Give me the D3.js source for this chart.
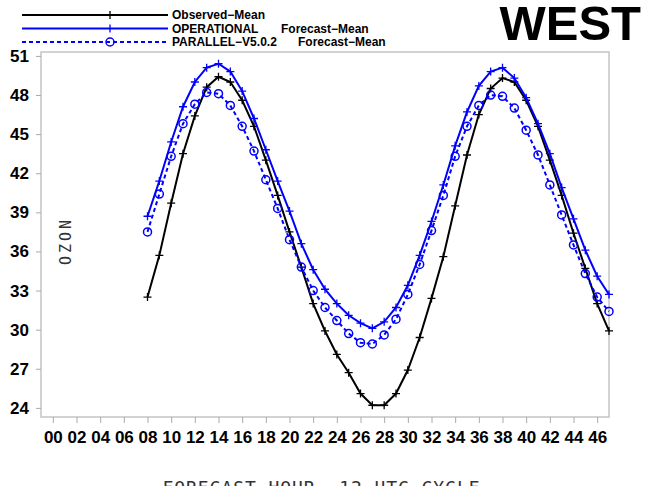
<!DOCTYPE html>
<html>
<head>
<meta charset="utf-8">
<script src="https://cdn.jsdelivr.net/npm/d3@7"></script>
<style>
  body { margin: 0; background: #fff; }
  svg { display: block; }
</style>
</head>
<body>
<div id="chart"></div>
<script>
// forecast hours 08..47
var hours = d3.range(8, 48);

var observed = [32.5, 35.7, 39.7, 43.5, 46.4, 48.6, 49.4, 49.0, 47.6, 45.6,
  43.0, 40.3, 37.5, 34.8, 32.0, 29.9, 28.1, 26.7, 25.1, 24.2,
  24.2, 25.1, 26.9, 29.4, 32.4, 35.6, 39.5, 43.4, 46.5, 48.5,
  49.3, 49.0, 47.6, 45.6, 43.0, 40.3, 37.4, 34.7, 32.0, 29.9];

var operational = [38.7, 41.4, 44.4, 47.1, 49.0, 50.1, 50.4, 49.8, 48.3, 46.2,
  43.8, 41.4, 39.1, 36.6, 34.6, 33.1, 32.0, 31.1, 30.5, 30.1,
  30.6, 31.7, 33.4, 35.7, 38.3, 41.1, 44.1, 46.7, 48.7, 49.8,
  50.1, 49.3, 47.8, 45.8, 43.5, 40.9, 38.5, 36.1, 34.1, 32.7];

var parallel = [37.5, 40.4, 43.3, 45.8, 47.3, 48.2, 48.1, 47.2, 45.6, 43.7,
  41.5, 39.3, 36.9, 34.8, 33.0, 31.7, 30.7, 29.7, 29.0, 28.9,
  29.6, 30.8, 32.7, 35.0, 37.6, 40.3, 43.3, 45.6, 47.2, 48.0,
  47.9, 47.0, 45.3, 43.4, 41.1, 38.8, 36.5, 34.3, 32.5, 31.4];

var xTicks = d3.range(0, 47, 2);
var yTicks = [24, 27, 30, 33, 36, 39, 42, 45, 48, 51];

var width = 646, height = 486;
var plot = { x0: 41, x1: 609, y0: 52, y1: 417 };

var svg = d3.select('#chart').append('svg')
  .attr('width', width)
  .attr('height', height);

var x = d3.scaleLinear().domain([-1, 47]).range([plot.x0, plot.x1]);
var y = d3.scaleLinear().domain([23.3, 51.3]).range([plot.y1, plot.y0]);

// frame
svg.append('rect')
  .attr('x', plot.x0).attr('y', plot.y0)
  .attr('width', plot.x1 - plot.x0).attr('height', plot.y1 - plot.y0)
  .attr('fill', 'none')
  .attr('stroke', '#c4c4c4')
  .attr('stroke-width', 1.5);

var yAxis = svg.append('g')
  .attr('transform', 'translate(' + plot.x0 + ',0)')
  .call(d3.axisLeft(y).tickValues(yTicks).tickSize(5).tickPadding(7));

var xAxis = svg.append('g')
  .attr('transform', 'translate(0,' + plot.y1 + ')')
  .call(d3.axisBottom(x).tickValues(xTicks).tickSize(6).tickPadding(8)
    .tickFormat(function(d) { return d3.format('02d')(d); }));

[yAxis, xAxis].forEach(function(g) {
  g.select('.domain').remove();
  g.selectAll('line').attr('stroke', '#aaa');
  g.selectAll('text')
    .attr('fill', '#000')
    .style('font-family', '"Liberation Sans", Arial, sans-serif')
    .style('font-weight', 'bold')
    .style('font-size', '17px');
});

// axis titles
svg.append('text')
  .attr('transform', 'translate(66,241) rotate(-90)')
  .attr('text-anchor', 'middle')
  .attr('dy', '0.35em')
  .style('font-family', '"DejaVu Sans Mono", monospace')
  .style('font-size', '15px')
  .style('letter-spacing', '3px')
  .attr('fill', '#333')
  .text('OZON');

// title sits mostly below the page edge, as in the source picture
svg.append('text')
  .attr('x', 321).attr('y', 494)
  .attr('text-anchor', 'middle')
  .style('font-family', '"DejaVu Sans Mono", monospace')
  .style('font-size', '18px')
  .attr('textLength', 317)
  .attr('fill', '#333')
  .text('FORECAST HOUR, 12 UTC CYCLE');

svg.append('text')
  .attr('x', 641).attr('y', 40)
  .attr('text-anchor', 'end')
  .style('font-family', '"Liberation Sans", Arial, sans-serif')
  .style('font-weight', 'bold')
  .style('font-size', '49px')
  .text('WEST');

var line = d3.line()
  .x(function(d) { return x(d[0]); })
  .y(function(d) { return y(d[1]); });

var series = [
  { values: observed, color: '#000', dash: null, marker: 'plus' },
  { values: operational, color: '#0000ff', dash: null, marker: 'plus' },
  { values: parallel, color: '#0000ff', dash: '4,3', marker: 'circle' }
];

function drawMarker(g, cx, cy, s) {
  if (s.marker === 'plus') {
    g.append('path')
      .attr('d', 'M' + (cx - 4) + ',' + cy + 'h8M' + cx + ',' + (cy - 4) + 'v8')
      .attr('stroke', s.color)
      .attr('stroke-width', 1.3);
  } else {
    g.append('circle')
      .attr('cx', cx).attr('cy', cy).attr('r', 4)
      .attr('fill', 'none')
      .attr('stroke', s.color)
      .attr('stroke-width', 1.5);
  }
}

series.forEach(function(s) {
  var pts = hours.map(function(h, i) { return [h, s.values[i]]; });
  svg.append('path')
    .datum(pts)
    .attr('d', line)
    .attr('fill', 'none')
    .attr('stroke', s.color)
    .attr('stroke-width', 2)
    .attr('stroke-dasharray', s.dash);
  var g = svg.append('g');
  pts.forEach(function(p) { drawMarker(g, x(p[0]), y(p[1]), s); });
});

// legend
var legendRows = [
  { s: series[0], a: 'Observed\u2212Mean', b: null, bx: 0 },
  { s: series[1], a: 'OPERATIONAL', b: 'Forecast\u2212Mean', bx: 281 },
  { s: series[2], a: 'PARALLEL\u2212V5.0.2', b: 'Forecast\u2212Mean', bx: 298 }
];

legendRows.forEach(function(r, i) {
  var ly = 15 + i * 13.5;
  var g = svg.append('g');
  g.append('line')
    .attr('x1', 22).attr('x2', 168)
    .attr('y1', ly).attr('y2', ly)
    .attr('stroke', r.s.color)
    .attr('stroke-width', 2)
    .attr('stroke-dasharray', r.s.dash);
  if (r.s.marker === 'plus') {
    g.append('line')
      .attr('x1', 110).attr('x2', 110)
      .attr('y1', ly - 4).attr('y2', ly + 4)
      .attr('stroke', r.s.color).attr('stroke-width', 1.3);
  } else {
    drawMarker(g, 110, ly, r.s);
  }
  var labels = [[172, r.a]];
  if (r.b) labels.push([r.bx, r.b]);
  labels.forEach(function(t) {
    g.append('text')
      .attr('x', t[0]).attr('y', ly)
      .attr('dy', '0.35em')
      .style('font-family', '"Liberation Sans", Arial, sans-serif')
      .style('font-weight', 'bold')
      .style('font-size', '12px')
      .text(t[1]);
  });
});
</script>
</body>
</html>
